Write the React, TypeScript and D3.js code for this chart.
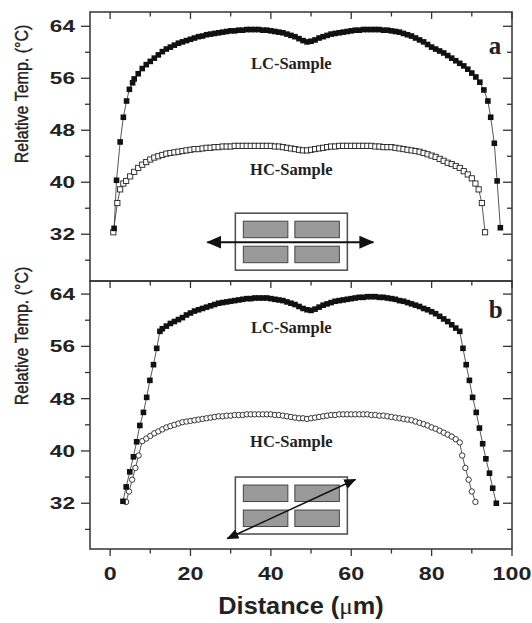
import React, { useEffect, useRef } from 'react';
import * as d3 from 'd3';

const WIDTH = 532;
const HEIGHT = 623;

// axis ticks
const xMajor = [0, 20, 40, 60, 80, 100];
const xMinor = [10, 30, 50, 70, 90];
const yMajor = [32, 40, 48, 56, 64];
const yMinor = [28, 36, 44, 52, 60];

// panel a, LC sample (filled squares)
const lcAStart: [number, number][] = [[1.0, 32.9], [1.6, 40.3], [2.5, 46.2], [3.3, 50.0], [4.1, 52.5], [4.8, 54.3], [5.6, 55.3]];
const lcAFirstX = 6;
const lcADense = [
  55.9, 56.7, 57.5, 58.1, 58.6, 59.1, 59.6, 60.1, 60.5, 60.8,
  61.1, 61.4, 61.6, 61.8, 62.0, 62.2, 62.4, 62.5, 62.7, 62.8,
  62.9, 63.0, 63.1, 63.2, 63.3, 63.3, 63.4, 63.4, 63.5, 63.5,
  63.5, 63.5, 63.4, 63.4, 63.3, 63.2, 63.1, 63.0, 62.8, 62.6,
  62.4, 62.1, 61.8, 61.6, 61.7, 61.9, 62.2, 62.4, 62.6, 62.8,
  62.9, 63.0, 63.1, 63.2, 63.3, 63.4, 63.4, 63.5, 63.5, 63.5,
  63.5, 63.5, 63.4, 63.4, 63.3, 63.2, 63.1, 62.9, 62.7, 62.5,
  62.2, 61.9, 61.6, 61.2, 60.8, 60.5, 60.2, 59.9, 59.5, 59.1,
  58.7, 58.3, 57.9, 57.4, 56.8, 56.2, 55.4,
];
const lcAEnd: [number, number][] = [[93.0, 54.2], [94.0, 52.5], [94.7, 50.0], [95.6, 46.0], [96.3, 40.2], [97.1, 33.0]];

// panel a, HC sample (open squares)
const hcAStart: [number, number][] = [[0.8, 32.3], [1.8, 36.8], [2.5, 38.9], [3.3, 39.8]];
const hcAFirstX = 4;
const hcADense = [
  40.2, 40.9, 41.6, 42.2, 42.7, 43.1, 43.5, 43.8, 44.0, 44.2,
  44.4, 44.5, 44.6, 44.7, 44.8, 44.9, 45.0, 45.1, 45.1, 45.2,
  45.3, 45.3, 45.4, 45.4, 45.5, 45.5, 45.5, 45.6, 45.6, 45.6,
  45.6, 45.6, 45.6, 45.6, 45.6, 45.6, 45.6, 45.5, 45.5, 45.4,
  45.3, 45.2, 45.1, 45.0, 44.9, 44.9, 45.0, 45.1, 45.2, 45.3,
  45.4, 45.5, 45.5, 45.6, 45.6, 45.6, 45.6, 45.6, 45.6, 45.6,
  45.6, 45.6, 45.5, 45.5, 45.4, 45.4, 45.4, 45.3, 45.2, 45.1,
  45.0, 44.9, 44.8, 44.7, 44.5, 44.3, 44.1, 43.9, 43.6, 43.3,
  43.0, 42.8, 42.5, 42.2, 41.7, 41.2, 40.6,
];
const hcAEnd: [number, number][] = [[90.9, 39.8], [91.7, 38.9], [92.5, 36.8], [93.3, 32.3]];

// panel b, LC sample (filled squares)
const lcBStart: [number, number][] = [[3.2, 32.3], [4.0, 34.5], [4.9, 36.8], [5.8, 39.1], [6.6, 41.4], [7.4, 43.9], [8.3, 45.9], [9.1, 48.2], [9.9, 50.8], [10.8, 53.2], [11.6, 55.7], [12.4, 58.3]];
const lcBFirstX = 13;
const lcBDense = [
  58.7, 59.1, 59.5, 59.8, 60.1, 60.4, 60.8, 61.1, 61.4, 61.6,
  61.8, 62.0, 62.2, 62.4, 62.6, 62.7, 62.8, 62.9, 63.0, 63.1,
  63.2, 63.3, 63.3, 63.4, 63.4, 63.4, 63.4, 63.3, 63.2, 63.1,
  63.0, 62.8, 62.6, 62.4, 62.1, 61.8, 61.6, 61.5, 61.7, 62.0,
  62.3, 62.5, 62.7, 62.9, 63.0, 63.1, 63.2, 63.3, 63.4, 63.5,
  63.5, 63.6, 63.6, 63.6, 63.5, 63.5, 63.4, 63.3, 63.2, 63.0,
  62.9, 62.7, 62.5, 62.3, 62.1, 61.8, 61.6, 61.3, 61.0, 60.6,
  60.2, 59.8, 59.3, 58.8, 58.3,
];
const lcBEnd: [number, number][] = [[87.8, 55.7], [88.6, 53.2], [89.4, 50.8], [90.2, 48.2], [91.1, 45.9], [91.9, 43.5], [92.7, 41.1], [93.5, 38.8], [94.4, 36.6], [95.2, 34.3], [96.1, 32.0]];

// panel b, HC sample (open circles)
const hcBStart: [number, number][] = [[4.0, 32.2], [4.7, 33.8], [5.5, 35.6], [6.3, 37.4], [7.1, 39.3]];
const hcBFirstX = 8;
const hcBDense = [
  41.5, 41.9, 42.3, 42.7, 43.0, 43.3, 43.6, 43.8, 44.0, 44.2,
  44.4, 44.5, 44.6, 44.7, 44.8, 44.9, 45.0, 45.1, 45.2, 45.3,
  45.3, 45.4, 45.4, 45.5, 45.5, 45.5, 45.6, 45.6, 45.6, 45.6,
  45.6, 45.6, 45.6, 45.5, 45.5, 45.4, 45.3, 45.2, 45.1, 45.0,
  45.0, 44.9, 45.0, 45.1, 45.2, 45.3, 45.4, 45.5, 45.5, 45.6,
  45.6, 45.6, 45.6, 45.6, 45.6, 45.6, 45.6, 45.5, 45.5, 45.4,
  45.4, 45.3, 45.2, 45.1, 45.0, 44.9, 44.8, 44.7, 44.5, 44.3,
  44.1, 43.9, 43.6, 43.4, 43.1, 42.8, 42.5, 42.2, 41.8, 41.3,
];
const hcBEnd: [number, number][] = [[87.6, 39.3], [88.4, 37.4], [89.2, 35.6], [90.0, 33.8], [90.9, 32.2]];

const build = (start: [number, number][], x0: number, dense: number[], end: [number, number][]) =>
  [...start, ...dense.map((v, i) => [x0 + i, v] as [number, number]), ...end];

const panels = [
  {
    name: 'a', top: 12, bottom: 281, yDomain: [24.8, 66.2],
    lc: build(lcAStart, lcAFirstX, lcADense, lcAEnd),
    hc: build(hcAStart, hcAFirstX, hcADense, hcAEnd),
    hcMarker: 'square',
    lcText: [45.1, 57.5], hcText: [45.1, 41.1], letter: [94.2, 59.8],
    inset: [45.1, 30.85], arrow: 'flat',
  },
  {
    name: 'b', top: 281, bottom: 549, yDomain: [25, 66],
    lc: build(lcBStart, lcBFirstX, lcBDense, lcBEnd),
    hc: build(hcBStart, hcBFirstX, hcBDense, hcBEnd),
    hcMarker: 'circle',
    lcText: [45.1, 58.0], hcText: [45.1, 40.6], letter: [94.2, 60.3],
    inset: [45.1, 31.65], arrow: 'diagonal',
  },
];

const SANS = '"Liberation Sans", Arial, Helvetica, sans-serif';
const SERIF = '"Liberation Serif", "Times New Roman", serif';

const App = () => {
  const svgRef = useRef<SVGSVGElement>(null);

  useEffect(() => {
    const svg = d3.select(svgRef.current);
    svg.selectAll('*').remove();

    const x = d3.scaleLinear().domain([-5, 100]).range([90, 512]);

    const defs = svg.append('defs');
    [['headBig', 15, 13], ['headSmall', 12, 10]].forEach(([id, len, wid]: any) => {
      defs.append('marker')
        .attr('id', id)
        .attr('markerUnits', 'userSpaceOnUse')
        .attr('markerWidth', len)
        .attr('markerHeight', wid)
        .attr('refX', len - 1)
        .attr('refY', wid / 2)
        .attr('orient', 'auto-start-reverse')
        .append('path')
        .attr('d', `M0,0 L${len},${wid / 2} L0,${wid} Z`)
        .attr('fill', '#111');
    });

    svg.append('rect').attr('width', WIDTH).attr('height', HEIGHT).attr('fill', '#fff');

    panels.forEach((p) => {
      const y = d3.scaleLinear().domain(p.yDomain).range([p.bottom, p.top]);
      const g = svg.append('g');

      // schematic inset
      const cx = x(p.inset[0]);
      const cy = y(p.inset[1]);
      const inset = g.append('g').attr('transform', `translate(${cx},${cy})`);
      inset.append('rect')
        .attr('x', -56).attr('y', -28.5).attr('width', 112).attr('height', 57)
        .attr('fill', '#fff').attr('stroke', '#555').attr('stroke-width', 1.6);
      [[-48, -20.5], [3.5, -20.5], [-48, 4.5], [3.5, 4.5]].forEach(([ox, oy]) => {
        inset.append('rect')
          .attr('x', ox).attr('y', oy).attr('width', 44.5).attr('height', 16.5)
          .attr('fill', '#9a9a9a').attr('stroke', '#444').attr('stroke-width', 1);
      });
      if (p.arrow === 'flat') {
        inset.append('line')
          .attr('x1', -84).attr('y1', 0.5).attr('x2', 82).attr('y2', 0.5)
          .attr('stroke', '#111').attr('stroke-width', 2)
          .attr('marker-start', 'url(#headBig)').attr('marker-end', 'url(#headBig)');
      } else {
        inset.append('line')
          .attr('x1', -64).attr('y1', 33).attr('x2', 64).attr('y2', -26)
          .attr('stroke', '#111').attr('stroke-width', 1.5)
          .attr('marker-start', 'url(#headSmall)').attr('marker-end', 'url(#headSmall)');
      }

      const line = d3.line<[number, number]>().x((d) => x(d[0])).y((d) => y(d[1]));
      [p.hc, p.lc].forEach((s) => {
        g.append('path').datum(s).attr('d', line)
          .attr('fill', 'none').attr('stroke', '#444').attr('stroke-width', 0.9);
      });

      // HC markers
      if (p.hcMarker === 'square') {
        g.append('g').selectAll('rect').data(p.hc).join('rect')
          .attr('x', (d) => x(d[0]) - 2.6).attr('y', (d) => y(d[1]) - 2.6)
          .attr('width', 5.2).attr('height', 5.2)
          .attr('fill', '#fff').attr('stroke', '#222').attr('stroke-width', 0.9);
      } else {
        g.append('g').selectAll('circle').data(p.hc).join('circle')
          .attr('cx', (d) => x(d[0])).attr('cy', (d) => y(d[1])).attr('r', 2.7)
          .attr('fill', '#fff').attr('stroke', '#222').attr('stroke-width', 0.9);
      }
      // LC markers
      g.append('g').selectAll('rect').data(p.lc).join('rect')
        .attr('x', (d) => x(d[0]) - 2.8).attr('y', (d) => y(d[1]) - 2.8)
        .attr('width', 5.6).attr('height', 5.6)
        .attr('fill', '#111');

      // sample labels
      g.append('text').attr('x', x(p.lcText[0])).attr('y', y(p.lcText[1]))
        .attr('text-anchor', 'middle').attr('font-family', SERIF).attr('font-weight', 'bold')
        .attr('font-size', 16.5).attr('fill', '#222').text('LC-Sample');
      g.append('text').attr('x', x(p.hcText[0])).attr('y', y(p.hcText[1]))
        .attr('text-anchor', 'middle').attr('font-family', SERIF).attr('font-weight', 'bold')
        .attr('font-size', 16.5).attr('fill', '#222').text('HC-Sample');
      g.append('text').attr('x', x(p.letter[0])).attr('y', y(p.letter[1]))
        .attr('font-family', SERIF).attr('font-weight', 'bold')
        .attr('font-size', 25).attr('fill', '#222').text(p.name);

      // frame
      g.append('rect')
        .attr('x', x(-5)).attr('y', p.top).attr('width', x(100) - x(-5)).attr('height', p.bottom - p.top)
        .attr('fill', 'none').attr('stroke', '#333').attr('stroke-width', 1.5);

      const ticks = g.append('g').attr('stroke', '#333').attr('stroke-width', 1.3);
      const yTick = (v: number, len: number) => {
        const py = y(v);
        ticks.append('line').attr('x1', x(-5) - len).attr('x2', x(-5)).attr('y1', py).attr('y2', py);
        ticks.append('line').attr('x1', x(100) - len).attr('x2', x(100)).attr('y1', py).attr('y2', py);
      };
      yMajor.forEach((v) => yTick(v, 9));
      yMinor.forEach((v) => yTick(v, 5));
      const xTick = (v: number, len: number) => {
        const px = x(v);
        ticks.append('line').attr('x1', px).attr('x2', px).attr('y1', p.top).attr('y2', p.top + len);
        if (p.name === 'b') {
          ticks.append('line').attr('x1', px).attr('x2', px).attr('y1', p.bottom).attr('y2', p.bottom + len);
        }
      };
      xMajor.forEach((v) => xTick(v, 7));
      xMinor.forEach((v) => xTick(v, 4.5));

      yMajor.forEach((v) => {
        g.append('text')
          .attr('transform', `translate(75,${y(v)}) scale(1.33,1)`)
          .attr('dy', '0.36em').attr('text-anchor', 'end')
          .attr('font-family', SANS).attr('font-weight', 'bold').attr('font-size', 17)
          .attr('fill', '#222').text(v);
      });

      g.append('text')
        .attr('transform', `translate(28,${p.name === 'a' ? 94 : 336}) scale(1.15,1) rotate(-90)`)
        .attr('text-anchor', 'middle')
        .attr('font-family', SANS).attr('font-size', 16).attr('fill', '#222')
        .attr('stroke', '#222').attr('stroke-width', 0.35)
        .text('Relative Temp. (°C)');

      if (p.name === 'b') {
        xMajor.forEach((v) => {
          g.append('text')
            .attr('transform', `translate(${x(v)},580) scale(1.33,1)`)
            .attr('text-anchor', 'middle')
            .attr('font-family', SANS).attr('font-weight', 'bold').attr('font-size', 17.5)
            .attr('fill', '#222').text(v);
        });
      }
    });

    const title = svg.append('text')
      .attr('transform', `translate(301,614) scale(1.1,1)`)
      .attr('text-anchor', 'middle')
      .attr('font-family', SANS).attr('font-weight', 'bold').attr('font-size', 23)
      .attr('fill', '#222');
    title.append('tspan').text('Distance (');
    title.append('tspan').attr('font-family', SERIF).attr('font-weight', 'normal').text('μ');
    title.append('tspan').text('m)');
  }, []);

  return (
    <svg
      ref={svgRef}
      width={WIDTH}
      height={HEIGHT}
      style={{ position: 'absolute', left: 0, top: 0, display: 'block' }}
    />
  );
};

export default App;
